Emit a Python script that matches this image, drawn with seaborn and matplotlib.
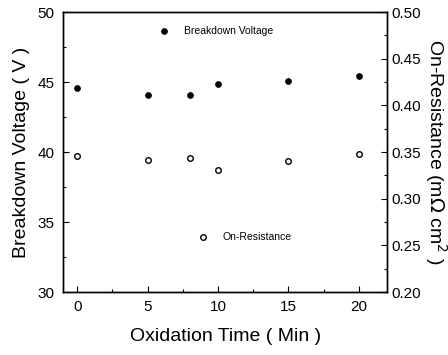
import seaborn as sns
import matplotlib.pyplot as plt
import pandas as pd
from matplotlib.ticker import MultipleLocator

time_min = [0, 5, 8, 10, 15, 20]
breakdown_v = [44.6, 44.1, 44.1, 44.85, 45.05, 45.45]
on_res = [0.346, 0.342, 0.3435, 0.331, 0.340, 0.348]

df = pd.DataFrame({'time': time_min, 'bv': breakdown_v, 'ron': on_res})

sns.set_style("ticks")
plt.rcParams['font.family'] = ['Liberation Sans', 'DejaVu Sans']
plt.rcParams['xtick.direction'] = 'in'
plt.rcParams['ytick.direction'] = 'in'
for k in ('text.color', 'axes.labelcolor', 'xtick.color', 'ytick.color', 'axes.edgecolor'):
    plt.rcParams[k] = 'black'

fig = plt.figure(figsize=(4.48, 3.55), dpi=100)
ax = fig.add_axes([0.141, 0.177, 0.723, 0.789])
ax2 = ax.twinx()

sns.scatterplot(data=df, x='time', y='bv', ax=ax, color='black', s=16,
                edgecolor='black', linewidth=0.8, label='Breakdown Voltage')
sns.scatterplot(data=df, x='time', y='ron', ax=ax2, facecolor='white', s=16,
                edgecolor='black', linewidth=1.0, label='On-Resistance')

ax.set_xlim(-1, 22)
ax.set_ylim(30, 50)
ax2.set_ylim(0.20, 0.50)
ax.xaxis.set_major_locator(MultipleLocator(5))
ax.xaxis.set_minor_locator(MultipleLocator(2.5))
ax.yaxis.set_major_locator(MultipleLocator(5))
ax.yaxis.set_minor_locator(MultipleLocator(2.5))
ax2.yaxis.set_major_locator(MultipleLocator(0.05))
ax2.yaxis.set_minor_locator(MultipleLocator(0.025))
ax2.yaxis.set_major_formatter(lambda v, p: f'{v:.2f}')

for a in (ax, ax2):
    a.tick_params(which='major', length=4, width=0.8, labelsize=11)
    a.tick_params(which='minor', length=2, width=0.8)
    for s in a.spines.values():
        s.set_linewidth(1.0)
        s.set_visible(True)
ax.tick_params(axis='both', pad=6)
ax2.tick_params(axis='y', pad=3)

ax.set_xlabel('Oxidation Time ( Min )', fontsize=14, labelpad=10)
ax.set_ylabel('Breakdown Voltage ( V )', fontsize=14, labelpad=6)
ax2.set_ylabel('On-Resistance (m$\\Omega$ cm$^2$ )', fontsize=14,
               rotation=270, labelpad=20)

ax.legend(loc='upper left', bbox_to_anchor=(0.25, 0.985), frameon=False,
          fontsize=7.5, handletextpad=0.9)
ax2.legend(loc='upper left', bbox_to_anchor=(0.37, 0.25), frameon=False,
           fontsize=7.5, handletextpad=0.9)

fig.savefig('out.png', dpi=100)
